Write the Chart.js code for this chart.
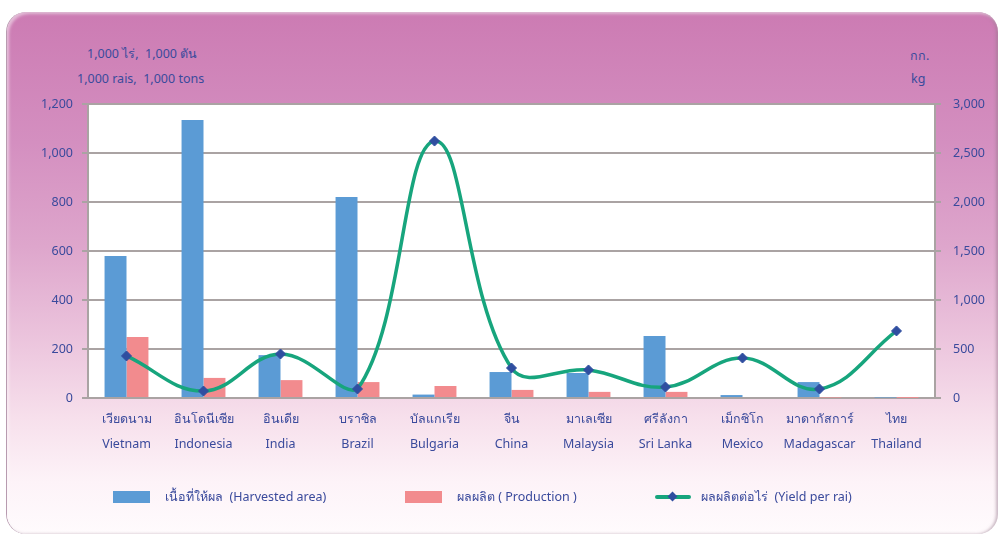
<!DOCTYPE html>
<html>
<head>
<meta charset="utf-8">
<script src="https://cdn.jsdelivr.net/npm/chart.js@4"></script>
<style>
  html, body { margin: 0; padding: 0; background: #fff; }
  body { width: 1005px; height: 536px; position: relative; overflow: hidden; font-family: "Noto Sans", "DejaVu Sans", sans-serif; color: #3a4a9c; }
  #frame {
    position: absolute; left: 7px; top: 12px; width: 991px; height: 522px;
    border-radius: 20px;
    background: linear-gradient(to bottom, #cc7bb3 0%, #d48fc0 25%, #dea6cc 45%, #ebc3dc 62%, #f7e0ec 78%, #fdf3f8 90%, #fffbfd 100%);
    box-shadow: inset 2px 2px 3px rgba(255,255,255,0.5), inset -2px 0 3px rgba(150,120,140,0.5), -1px 0 0 #b89bb0;
  }
  #wrap { position: absolute; left: 0; top: 0; width: 1005px; height: 536px; }
  .unit { position: absolute; font-size: 12.5px; white-space: pre; color: #3a4a9c; }
  #legend { position: absolute; top: 487px; left: 0; width: 1005px; height: 20px; font-size: 12.5px; color: #3a4a9c; }
  .item { position: absolute; top: 0; height: 20px; display: flex; align-items: center; white-space: pre; }
  .box { width: 37px; height: 12px; margin-right: 15px; }
  .lineSw { position: relative; width: 36px; height: 12px; margin-right: 10px; }
  .lineSw .ln { position: absolute; left: 0; top: 4px; width: 36px; height: 4px; background: #17a57d; border-radius: 2px; }
  .lineSw .dm { position: absolute; left: 14px; top: 2px; width: 7px; height: 7px; background: #2f4ea0; transform: rotate(45deg); }
</style>
</head>
<body>
<div id="frame"></div>
<div class="unit" style="left:87px; top:44px;">1,000 ไร่,  1,000 ตัน</div>
<div class="unit" style="left:77px; top:70px;">1,000 rais,  1,000 tons</div>
<div class="unit" style="left:910px; top:46px;">กก.</div>
<div class="unit" style="left:911px; top:70px;">kg</div>
<div id="wrap"><canvas id="riceChart" width="1005" height="536"></canvas></div>
<div id="legend">
  <div class="item" style="left:113px;"><div class="box" style="background:#5b9bd5;"></div>เนื้อที่ให้ผล  (Harvested area)</div>
  <div class="item" style="left:405px;"><div class="box" style="background:#f28b8e;"></div>ผลผลิต ( Production )</div>
  <div class="item" style="left:655px;"><div class="lineSw"><div class="ln"></div><div class="dm"></div></div>ผลผลิตต่อไร่  (Yield per rai)</div>
</div>
<script>
const countriesTh = ["เวียดนาม", "อินโดนีเซีย", "อินเดีย", "บราซิล", "บัลแกเรีย", "จีน", "มาเลเซีย", "ศรีลังกา", "เม็กซิโก", "มาดากัสการ์", "ไทย"];
const countriesEn = ["Vietnam", "Indonesia", "India", "Brazil", "Bulgaria", "China", "Malaysia", "Sri Lanka", "Mexico", "Madagascar", "Thailand"];

// 1,000 rais
const harvestedArea = [580, 1135, 175, 820, 14, 106, 102, 253, 12, 65, 2];
// 1,000 tons
const production = [249, 82, 73, 65, 49, 33, 25, 25, 4, 2, 0.5];
// kg per rai
const yieldPerRai = [429, 71, 449, 92, 2622, 306, 286, 112, 408, 92, 684];

const textColor = "#3a4a9c";
const gridColor = "#aaa3a3";

const labels = countriesTh.map((th, i) => [th, countriesEn[i]]);

const plotBg = {
    id: "plotBg",
    beforeDraw(chart) {
        const { ctx, chartArea } = chart;
        ctx.save();
        ctx.fillStyle = "#ffffff";
        ctx.fillRect(chartArea.left, chartArea.top, chartArea.right - chartArea.left, chartArea.bottom - chartArea.top);
        ctx.restore();
    }
};

const ctx = document.getElementById("riceChart").getContext("2d");
const riceChart = new Chart(ctx, {
    data: {
        labels: labels,
        datasets: [
            {
                type: "line",
                label: "ผลผลิตต่อไร่ (Yield per rai)",
                data: yieldPerRai,
                yAxisID: "y1",
                borderColor: "#17a57d",
                borderWidth: 3.5,
                tension: 0.4,
                pointStyle: "rectRot",
                pointRadius: 5,
                pointBackgroundColor: "#2f4ea0",
                pointBorderColor: "#2f4ea0",
                pointBorderWidth: 1,
                order: 0,
            },
            {
                type: "bar",
                label: "เนื้อที่ให้ผล (Harvested area)",
                data: harvestedArea,
                yAxisID: "y",
                backgroundColor: "#5b9bd5",
                categoryPercentage: 0.57,
                barPercentage: 1.0,
                order: 1,
            },
            {
                type: "bar",
                label: "ผลผลิต ( Production )",
                data: production,
                yAxisID: "y",
                backgroundColor: "#f28b8e",
                categoryPercentage: 0.57,
                barPercentage: 1.0,
                order: 1,
            },
        ],
    },
    options: {
        responsive: false,
        animation: false,
        layout: { padding: { top: 104, left: 0, right: 0, bottom: 68 } },
        plugins: {
            legend: { display: false },
            tooltip: { enabled: false },
        },
        scales: {
            x: {
                grid: { display: false, drawTicks: false },
                border: { display: true, color: gridColor, width: 2 },
                ticks: {
                    color: textColor,
                    padding: 9,
                    maxRotation: 0,
                    autoSkip: false,
                    font: { family: "Noto Sans", size: 12.5, lineHeight: 2 },
                },
                afterFit(scale) { scale.height = 70; },
            },
            y: {
                position: "left",
                min: 0,
                max: 1200,
                ticks: {
                    stepSize: 200,
                    color: textColor,
                    padding: 9,
                    font: { family: "Noto Sans", size: 12.5 },
                },
                grid: { color: gridColor, lineWidth: 2, tickLength: 6 },
                border: { display: true, color: gridColor, width: 2 },
                afterFit(scale) { scale.width = 88; },
            },
            y1: {
                position: "right",
                min: 0,
                max: 3000,
                ticks: {
                    stepSize: 500,
                    color: textColor,
                    padding: 12,
                    font: { family: "Noto Sans", size: 12.5 },
                },
                grid: { drawOnChartArea: false, color: gridColor, lineWidth: 2, tickLength: 6 },
                border: { display: true, color: gridColor, width: 2 },
                afterFit(scale) { scale.width = 70; },
            },
        },
    },
    plugins: [plotBg],
});
</script>
</body>
</html>
